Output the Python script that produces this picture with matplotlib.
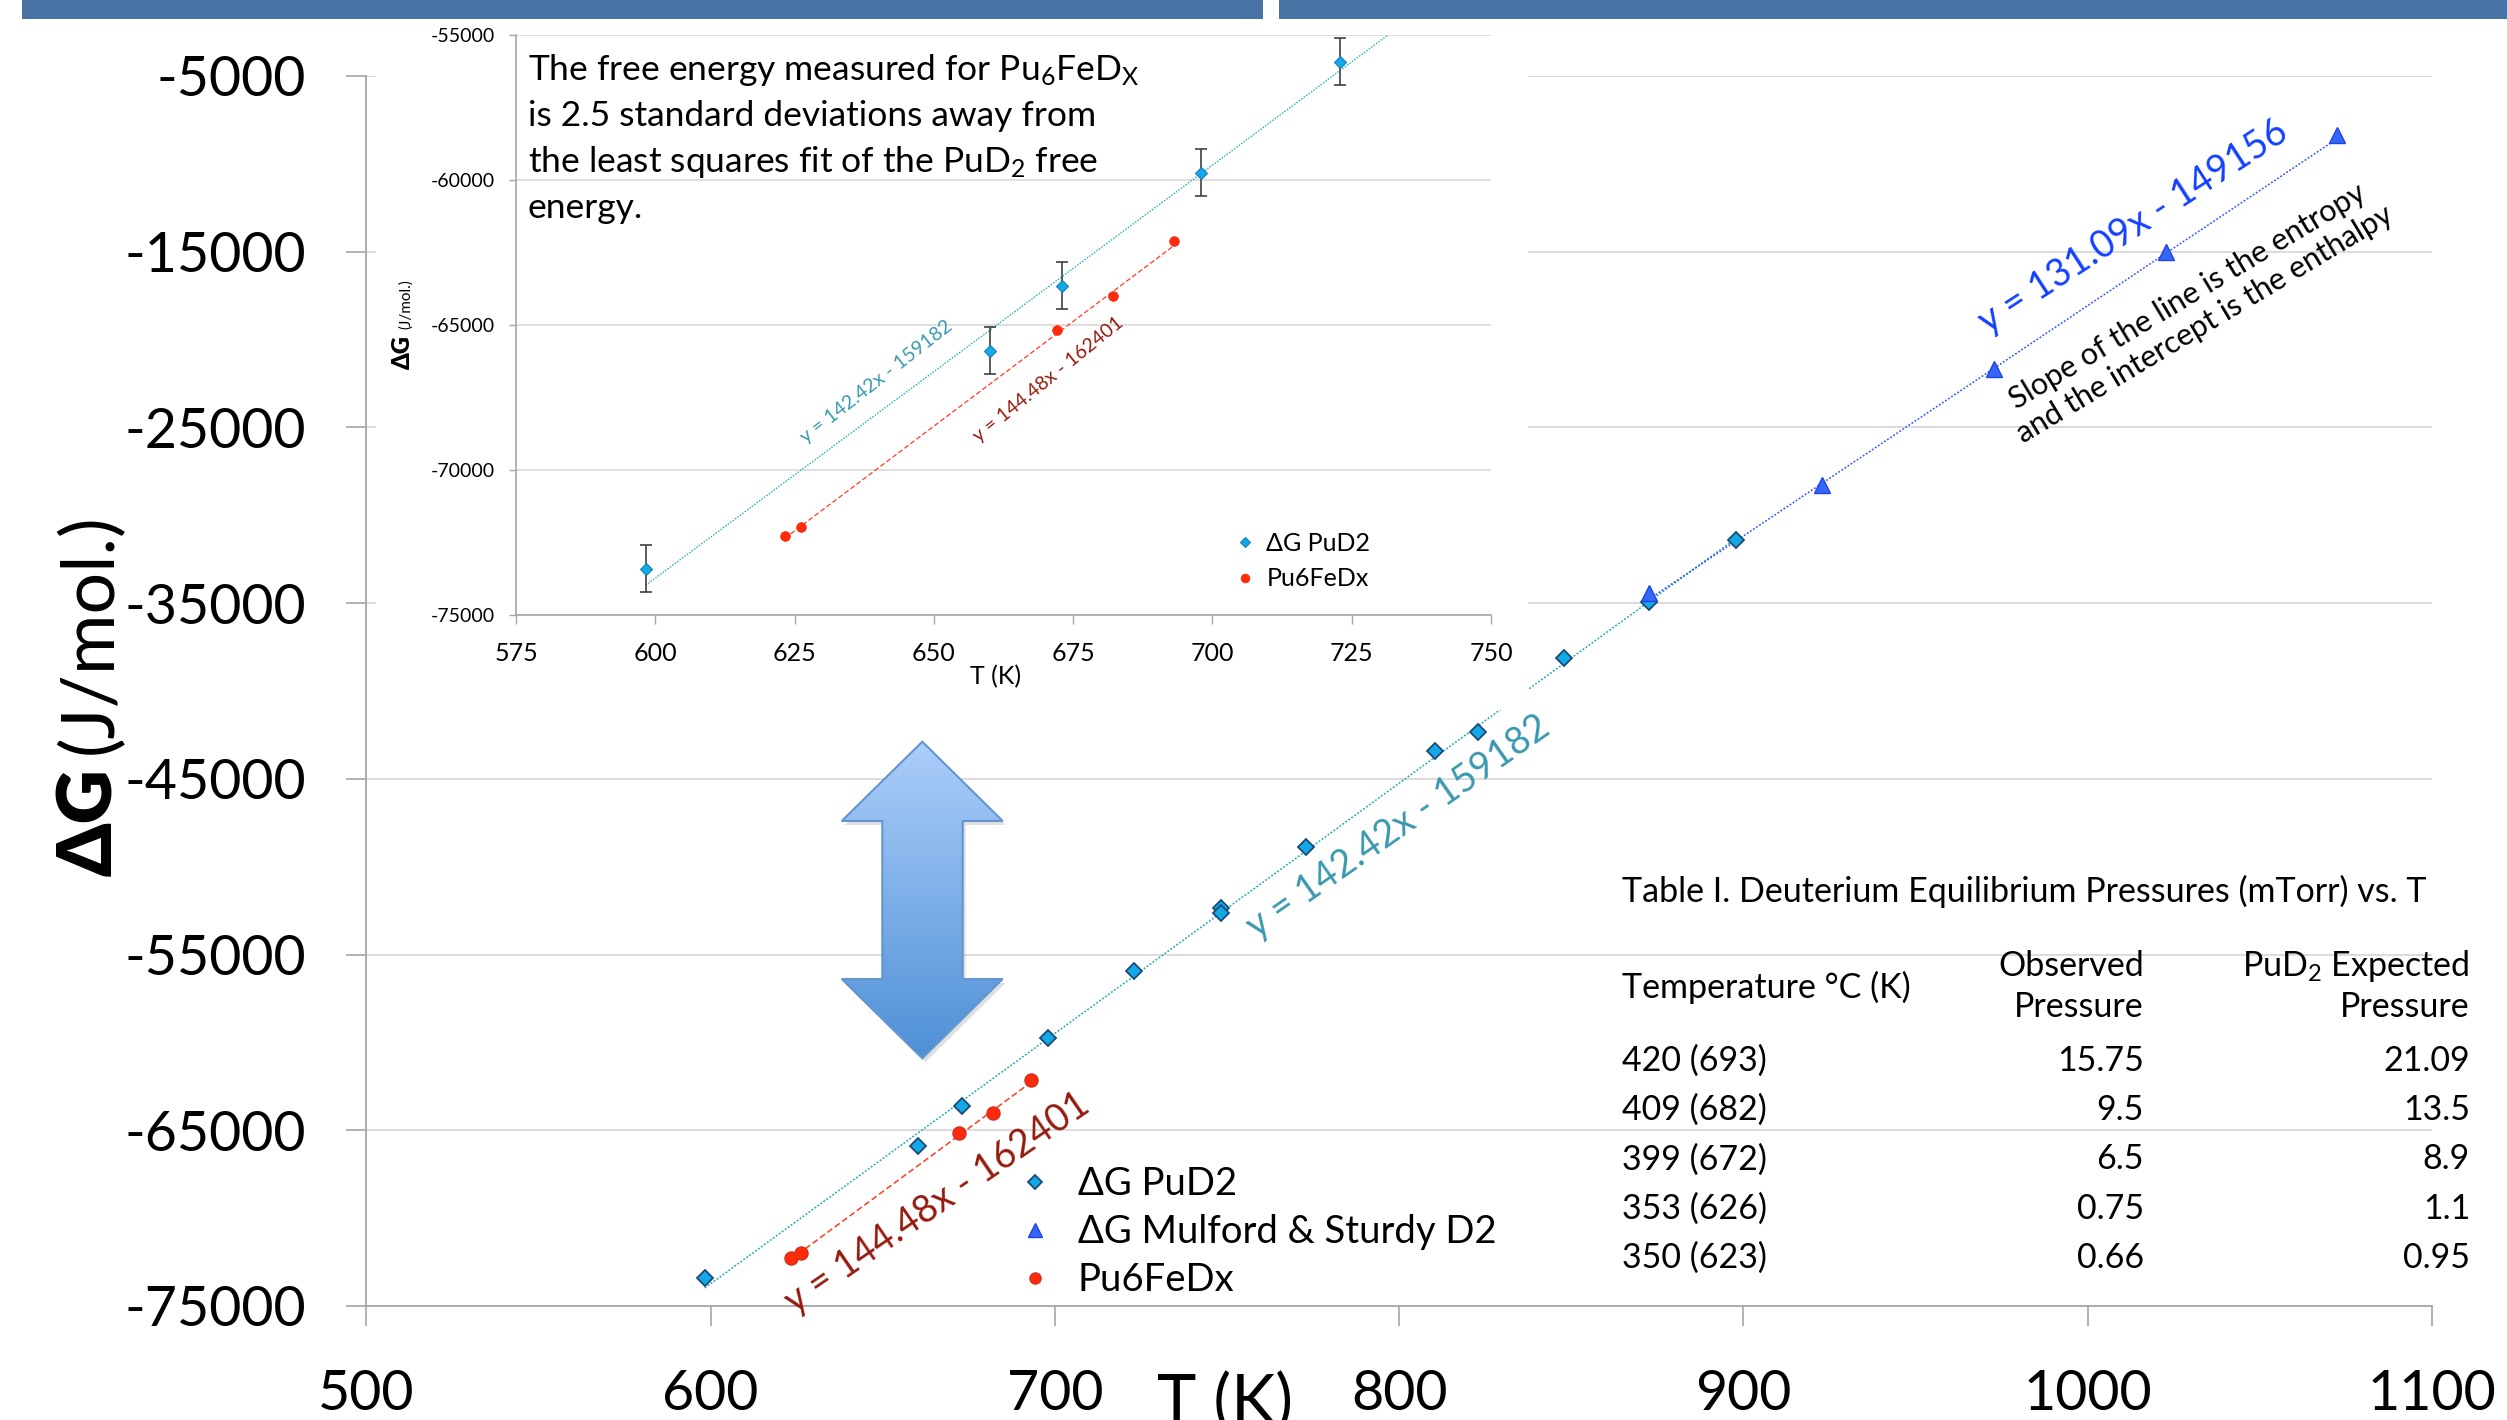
import numpy as np
import matplotlib
matplotlib.use('Agg')
import matplotlib.pyplot as plt
from matplotlib.patches import Polygon, Rectangle

plt.rcParams['font.family'] = ['Lato', 'DejaVu Sans']
plt.rcParams['mathtext.fontset'] = 'custom'
plt.rcParams['mathtext.rm'] = 'Lato'
plt.rcParams['mathtext.it'] = 'Lato:italic'
plt.rcParams['mathtext.bf'] = 'Lato:bold'
plt.rcParams['axes.unicode_minus'] = False

W, H, DPI = 2507, 1420, 100

# ---------------- data ----------------
pud2_T = [598.3, 660.1, 673.0, 697.9, 722.9, 748.1, 748.1, 772.9, 810.4, 822.9, 847.9, 872.7, 897.9]
pud2_G = [-73400, -65880, -63640, -59750, -55930, -52330, -52650, -48890, -43400, -42350, -38140, -34920, -31430]
pud2_err = [810, 810, 810, 810, 810]          # error bars of first five points (inset)

mulford_T = [872.7, 922.7, 972.7, 1022.7, 1072.5]
mulford_G = [-34440, -28290, -21690, -14990, -8360]

pu6_T = [623.2, 626.1, 672.1, 682.1, 693.1]
pu6_G = [-72280, -71980, -65180, -64000, -62110]

fit_pud2 = [142.42, -159182]
fit_pu6 = [144.48, -162401]
fit_mul = [131.09, -149156]

main_xticks = [500, 600, 700, 800, 900, 1000, 1100]
main_yticks = [-75000, -65000, -55000, -45000, -35000, -25000, -15000, -5000]
ins_xticks = [575, 600, 625, 650, 675, 700, 725, 750]
ins_yticks = [-75000, -70000, -65000, -60000, -55000]

tbl_title = "Table I. Deuterium Equilibrium Pressures (mTorr) vs. T"
tbl_temp = ["420 (693)", "409 (682)", "399 (672)", "353 (626)", "350 (623)"]
tbl_obs = ["15.75", "9.5", "6.5", "0.75", "0.66"]
tbl_exp = ["21.09", "13.5", "8.9", "1.1", "0.95"]

note_lines = ["The free energy measured for Pu$_{\\mathregular{6}}$FeD$_{\\mathregular{X}}$",
              "is 2.5 standard deviations away from",
              "the least squares fit of the PuD$_{\\mathregular{2}}$ free",
              "energy."]

# ---------------- styles ----------------
C_DIA = '#12A9E6'; C_DIA_E = '#1B4A78'
C_TRI = '#3566F5'; C_TRI_E = '#1C45E6'
C_RED = '#FF2A0C'; C_RED_E = '#D0301E'
C_TEAL = '#19A7B4'; C_REDL = '#FF3B22'; C_BLUEL = '#2A55FF'
C_TEAL_T = '#3A98AE'; C_RED_T = '#951A0C'; C_BLUE_T = '#1240FF'
GRID = '#D9D9D9'; SPINE = '#A6A6A6'


def fr(x0, y0, x1, y1):
    return [x0 / W, 1 - y1 / H, (x1 - x0) / W, (y1 - y0) / H]


def fitline(fit, xs):
    xs = np.array([min(xs), max(xs)])
    return xs, fit[0] * xs + fit[1]


fig = plt.figure(figsize=(W / DPI, H / DPI), dpi=DPI)
fig.patch.set_facecolor('white')

# ---------------- main axes ----------------
ax = fig.add_axes(fr(366.4, 76, 2432, 1306))
ax.set_zorder(1)
ax.set_xlim(500, 1100)
ax.set_ylim(-75000, -5000)
ax.set_xticks(main_xticks)
ax.set_xticklabels([str(v) for v in main_xticks])
ax.set_yticks(main_yticks)
ax.set_yticklabels([str(v) for v in main_yticks])
for s in ['top', 'right']:
    ax.spines[s].set_visible(False)
for s in ['left', 'bottom']:
    ax.spines[s].set_color(SPINE)
    ax.spines[s].set_linewidth(1.3)
ax.grid(axis='y', color=GRID, lw=1.3)
ax.set_axisbelow(True)
ax.tick_params(axis='both', direction='out', length=14.4, width=1.2, color=SPINE, labelsize=40)
ax.tick_params(axis='y', pad=29)
ax.tick_params(axis='x', pad=31)

xl, yl = fitline(fit_pud2, pud2_T)
ax.plot(xl, yl, color=C_TEAL, lw=1.1, ls=(0, (1.2, 1.2)), zorder=2)
xl, yl = fitline(fit_pu6, pu6_T)
ax.plot(xl, yl, color=C_REDL, lw=1.1, ls=(0, (4, 2)), zorder=2)
xl, yl = fitline(fit_mul, mulford_T)
ax.plot(xl, yl, color=C_BLUEL, lw=1.1, ls=(0, (1.2, 1.2)), zorder=2)

h1, = ax.plot(pud2_T, pud2_G, ls='none', marker='D', ms=8.0, mfc=C_DIA, mec=C_DIA_E, mew=1.3, zorder=4)
h2, = ax.plot(mulford_T, mulford_G, ls='none', marker='^', ms=11.2, mfc=C_TRI, mec=C_TRI_E, mew=1.0, zorder=5)
h3, = ax.plot(pu6_T, pu6_G, ls='none', marker='o', ms=9.4, mfc=C_RED, mec=C_RED_E, mew=1.0, zorder=4)

leg = ax.legend([h1, h2, h3], ["ΔG PuD2", "ΔG Mulford & Sturdy D2", "Pu6FeDx"],
                loc='upper left', bbox_to_anchor=(1016 / W, 1 - 1166 / H), bbox_transform=fig.transFigure,
                frameon=False, fontsize=27.5, handlelength=1.0, handletextpad=0.62, labelspacing=0.32,
                borderpad=0, borderaxespad=0, markerscale=0.85)

# white box behind inset
fig.add_artist(Rectangle((376 / W, 1 - 710 / H), (1528 - 376) / W, (710 - 19) / H,
                         transform=fig.transFigure, facecolor='white', edgecolor='none', zorder=1.5))

# ---------------- inset axes ----------------
ins = fig.add_axes(fr(516, 35, 1491, 615))
ins.set_zorder(2)
ins.set_xlim(575, 750)
ins.set_ylim(-75000, -55000)
ins.set_xticks(ins_xticks)
ins.set_xticklabels([str(v) for v in ins_xticks])
ins.set_yticks(ins_yticks)
ins.set_yticklabels([str(v) for v in ins_yticks])
for s in ['top', 'right']:
    ins.spines[s].set_visible(False)
for s in ['left', 'bottom']:
    ins.spines[s].set_color(SPINE)
    ins.spines[s].set_linewidth(1.2)
ins.grid(axis='y', color=GRID, lw=1.2)
ins.set_axisbelow(True)
ins.tick_params(axis='both', direction='out', width=1.0, color=SPINE)
ins.tick_params(axis='y', length=5, pad=10, labelsize=14)
ins.tick_params(axis='x', length=6.5, pad=13, labelsize=18)

xl, yl = fitline(fit_pud2, [pud2_T[0], 750])
ins.plot(xl, yl, color=C_TEAL, lw=0.9, ls=(0, (1.2, 1.2)), zorder=2)
xl, yl = fitline(fit_pu6, pu6_T)
ins.plot(xl, yl, color=C_REDL, lw=0.9, ls=(0, (4, 2)), zorder=2)
ins.errorbar(pud2_T[:5], pud2_G[:5], yerr=pud2_err, fmt='none', ecolor='#404040', elinewidth=1.2,
             capsize=4, capthick=1.2, zorder=3)
i1, = ins.plot(pud2_T[:5], pud2_G[:5], ls='none', marker='D', ms=5.8, mfc=C_DIA, mec='#1A7FB5', mew=0.8, zorder=4)
i2, = ins.plot(pu6_T, pu6_G, ls='none', marker='o', ms=7.0, mfc=C_RED, mec=C_RED, mew=0.5, zorder=4)
ins.legend([i1, i2], ["ΔG PuD2", "Pu6FeDx"], loc='upper left',
           bbox_to_anchor=(1235 / W, 1 - 532 / H), bbox_transform=fig.transFigure,
           frameon=False, fontsize=18, handlelength=0.8, handletextpad=0.46, labelspacing=0.5,
           borderpad=0, borderaxespad=0, markerscale=0.9)

# ---------------- overlay (pixel coordinates) ----------------
ov = fig.add_axes([0, 0, 1, 1])
ov.set_zorder(4)
ov.set_xlim(0, W)
ov.set_ylim(H, 0)
ov.set_axis_off()

# top bar
ov.add_patch(Rectangle((22, 0), 1263 - 22, 19, facecolor='#4672A4', edgecolor='none'))
ov.add_patch(Rectangle((1279, 0), W - 1279, 19, facecolor='#4672A4', edgecolor='none'))

# double arrow with gradient
arrow_xy = [(922.3, 741.7), (1002.7, 821), (962.7, 821), (962.7, 979), (1002.7, 979),
            (922.3, 1058.3), (841.7, 979), (882.3, 979), (882.3, 821), (841.7, 821)]
shadow = Polygon([(x + 3, y + 4) for x, y in arrow_xy], closed=True, facecolor='#000000', alpha=0.12,
                 edgecolor='none', zorder=1)
ov.add_patch(shadow)
poly = Polygon(arrow_xy, closed=True, facecolor='none', edgecolor='#6495CF', lw=1.5, zorder=3)
ov.add_patch(poly)
top_c = np.array([172, 206, 250]) / 255.0
bot_c = np.array([78, 144, 214]) / 255.0
t = np.linspace(0, 1, 256)[:, None]
grad = (top_c[None, :] * (1 - t) + bot_c[None, :] * t)[:, None, :]
im = ov.imshow(grad, extent=(841.7, 1002.7, 1058.3, 741.7), origin='upper', aspect='auto', zorder=2)
im.set_clip_path(poly)
ov.set_xlim(0, W)
ov.set_ylim(H, 0)

# main axis labels
ov.text(112, 876, "ΔG", rotation=90, rotation_mode='anchor', ha='left', va='baseline',
        fontsize=54, fontweight='heavy')
ov.text(112, 754, "(J/mol.)", rotation=90, rotation_mode='anchor', ha='left', va='baseline',
        fontsize=53)
ov.text(1225, 1372, "T (K)", ha='center', va='top', fontsize=48)

# inset axis labels
ov.text(410, 369, "ΔG", rotation=90, rotation_mode='anchor', ha='left', va='baseline',
        fontsize=17, fontweight='heavy')
ov.text(410, 329, "(J/mol.)", rotation=90, rotation_mode='anchor', ha='left', va='baseline',
        fontsize=11)
ov.text(996, 677, "T (K)", ha='center', va='center', fontsize=18)


def eq(fit):
    return "y = %.2fx - %d" % (fit[0], abs(fit[1]))


# equations
ov.text(1398, 827, eq(fit_pud2), rotation=35, ha='center', va='center', fontsize=27, color=C_TEAL_T,
        rotation_mode='anchor')
ov.text(937, 1203, eq(fit_pu6), rotation=34.5, ha='center', va='center', fontsize=27, color=C_RED_T,
        rotation_mode='anchor')
ov.text(2133, 227, eq(fit_mul), rotation=33, ha='center', va='center', fontsize=27, color=C_BLUE_T,
        rotation_mode='anchor')
ov.text(2196, 310, "Slope of the line is the entropy\nand the intercept is the enthalpy", rotation=31,
        ha='center', va='center', multialignment='center', fontsize=22, linespacing=1.2,
        rotation_mode='anchor')
ov.text(876, 382, eq(fit_pud2), rotation=38, ha='center', va='center', fontsize=14, color=C_TEAL_T,
        rotation_mode='anchor')
ov.text(1048, 380, eq(fit_pu6), rotation=39, ha='center', va='center', fontsize=14, color=C_RED_T,
        rotation_mode='anchor')

# inset note
for i, ln in enumerate(note_lines):
    ov.text(528, 80.5 + i * 46, ln, ha='left', va='baseline', fontsize=25.5)

# table
TS = 24.5
ov.text(1622, 902, tbl_title, ha='left', va='baseline', fontsize=TS)
ov.text(1622, 998, "Temperature °C (K)", ha='left', va='baseline', fontsize=TS)
ov.text(2144, 976, "Observed", ha='right', va='baseline', fontsize=TS)
ov.text(2144, 1017, "Pressure", ha='right', va='baseline', fontsize=TS)
ov.text(2470, 976, "PuD$_{\\mathregular{2}}$ Expected", ha='right', va='baseline', fontsize=TS)
ov.text(2470, 1017, "Pressure", ha='right', va='baseline', fontsize=TS)
for i in range(len(tbl_temp)):
    yb = 1071 + i * 49.2
    ov.text(1622, yb, tbl_temp[i], ha='left', va='baseline', fontsize=TS)
    ov.text(2144, yb, tbl_obs[i], ha='right', va='baseline', fontsize=TS)
    ov.text(2470, yb, tbl_exp[i], ha='right', va='baseline', fontsize=TS)

fig.savefig('out.png', dpi=DPI)
